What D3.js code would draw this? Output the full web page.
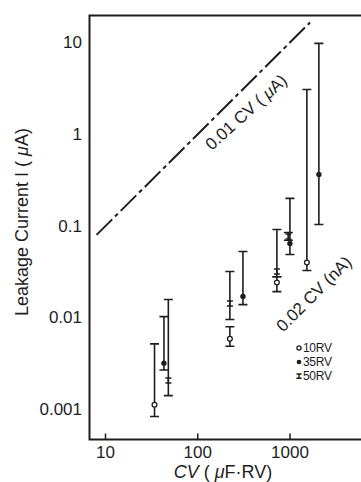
<!DOCTYPE html>
<html><head><meta charset="utf-8">
<script src="https://cdn.jsdelivr.net/npm/d3@7"></script>
<style>
html,body{margin:0;padding:0;background:#fff;}
svg{display:block;font-family:"Liberation Sans",Arial,Helvetica,sans-serif;}
</style></head><body>
<svg id="chart" width="361" height="482"></svg>
<script>
// ---- data ----
const xTicks = [10, 100, 1000];
const yTicks = [10, 1, 0.1, 0.01, 0.001];
const yTickLabels = ["10", "1", "0.1", "0.01", "0.001"];

const cv10RV  = [34, 223, 721, 1524];
const hi10RV  = [0.0052, 0.0080, 0.028, 3.07];
const mid10RV = [0.00113, 0.0059, 0.0242, 0.040];
const lo10RV  = [0.00084, 0.0049, 0.0193, 0.0327];

const cv35RV  = [43, 309, 998, 2056];
const hi35RV  = [0.0103, 0.0527, 0.20, 9.75];
const mid35RV = [0.0032, 0.0171, 0.0644, 0.364];
const lo35RV  = [0.0027, 0.0139, 0.0489, 0.104];

const cv50RV  = [48, 223, 721, 960];
const hi50RV  = [0.0158, 0.0319, 0.0916, 0.085];
const mid50RV = [0.00207, 0.0143, 0.0319, 0.077];
const lo50RV  = [0.00142, 0.0096, 0.028, 0.070];

const guideCV = [8, 1650];           // 0.01 CV (uA) line extent
const guideFactor = 0.01;

const legendLabels = ["10RV", "35RV", "50RV"];

// ---- layout ----
const svg = d3.select("#chart");
const plot = {left: 89.5, top: 15.5, bottom: 439.5, right: 420};
const x = d3.scaleLog().domain([10, 1000]).range([105.5, 290]);
const y = d3.scaleLog().domain([10, 0.001]).range([42.4, 409.6]);
const ink = "#1e1e1e";

// frame (left, top, bottom; right side lies outside the view)
svg.append("path")
  .attr("d", `M${plot.right},${plot.top}H${plot.left}V${plot.bottom}H${plot.right}`)
  .attr("fill", "none").attr("stroke", ink).attr("stroke-width", 2);

// x ticks (inward)
svg.selectAll(".xt").data(xTicks).join("line")
  .attr("x1", d => x(d)).attr("x2", d => x(d))
  .attr("y1", plot.bottom).attr("y2", plot.bottom - 6)
  .attr("stroke", ink).attr("stroke-width", 1.5);
svg.selectAll(".xl").data(xTicks).join("text")
  .attr("x", d => x(d)).attr("y", 452)
  .attr("text-anchor", "middle").attr("dominant-baseline", "central")
  .attr("font-size", 17).attr("fill", ink)
  .text(d => d);

// y tick labels
svg.selectAll(".yl").data(yTicks).join("text")
  .attr("x", 82).attr("y", d => y(d))
  .attr("text-anchor", "end").attr("dominant-baseline", "central")
  .attr("font-size", 17).attr("fill", ink)
  .text((d, i) => yTickLabels[i]);

// axis titles
const xt = svg.append("text")
  .attr("x", 223).attr("y", 472)
  .attr("text-anchor", "middle").attr("dominant-baseline", "central")
  .attr("font-size", 18).attr("fill", ink);
xt.append("tspan").attr("font-style", "italic").text("CV");
xt.append("tspan").text(" ( ");
xt.append("tspan").attr("font-style", "italic").text("\u03bc");
xt.append("tspan").text("F\u00b7RV)");

const yt = svg.append("text")
  .attr("transform", "translate(22,222) rotate(-90)")
  .attr("text-anchor", "middle").attr("dominant-baseline", "central")
  .attr("font-size", 18).attr("fill", ink);
yt.append("tspan").text("Leakage Current I ( ");
yt.append("tspan").attr("font-style", "italic").text("\u03bc");
yt.append("tspan").text("A)");

// guide line 0.01 CV
svg.append("line")
  .attr("x1", x(guideCV[0])).attr("y1", y(guideCV[0] * guideFactor))
  .attr("x2", x(guideCV[1])).attr("y2", y(guideCV[1] * guideFactor))
  .attr("stroke", ink).attr("stroke-width", 2)
  .attr("stroke-dasharray", "22,4,4,4");

const l1 = svg.append("text")
  .attr("transform", "translate(246,112) rotate(-42)")
  .attr("text-anchor", "middle").attr("dominant-baseline", "central")
  .attr("font-size", 17).attr("fill", ink);
l1.append("tspan").text("0.01 CV ( ");
l1.append("tspan").attr("font-style", "italic").text("\u03bc");
l1.append("tspan").text("A)");

svg.append("text")
  .attr("transform", "translate(314,294) rotate(-45)")
  .attr("text-anchor", "middle").attr("dominant-baseline", "central")
  .attr("font-size", 17).attr("fill", ink)
  .text("0.02 CV (nA)");

// error bars
const series = [
  {cv: cv10RV, hi: hi10RV, mid: mid10RV, lo: lo10RV, kind: "open"},
  {cv: cv35RV, hi: hi35RV, mid: mid35RV, lo: lo35RV, kind: "filled"},
  {cv: cv50RV, hi: hi50RV, mid: mid50RV, lo: lo50RV, kind: "beam"}
];
const capW = 4.5;
function drawMarker(g, kind, cx, cy, s) {
  if (kind === "open") {
    g.append("circle").attr("cx", cx).attr("cy", cy).attr("r", 2.4*s)
      .attr("fill", "#fff").attr("stroke", ink).attr("stroke-width", 1.3);
  } else if (kind === "filled") {
    g.append("circle").attr("cx", cx).attr("cy", cy).attr("r", 2.7*s)
      .attr("fill", ink);
  } else {
    g.append("path")
      .attr("d", `M${cx-3*s},${cy-2.5*s}H${cx+3*s}M${cx-3*s},${cy+2.5*s}H${cx+3*s}M${cx},${cy-2.5*s}V${cy+2.5*s}`)
      .attr("stroke", ink).attr("stroke-width", 1.5).attr("fill", "none");
  }
}
series.forEach(s => {
  const g = svg.append("g");
  s.cv.forEach((c, i) => {
    const cx = x(c), yh = y(s.hi[i]), yl = y(s.lo[i]);
    g.append("path")
      .attr("d", `M${cx},${yh}V${yl}M${cx-capW},${yh}H${cx+capW}M${cx-capW},${yl}H${cx+capW}`)
      .attr("stroke", ink).attr("stroke-width", 1.6).attr("fill", "none");
    drawMarker(g, s.kind, cx, y(s.mid[i]), 1);
  });
});

// legend
const legKinds = ["open", "filled", "beam"];
const lg = svg.append("g");
legendLabels.forEach((t, i) => {
  const ly = 348 + i * 14;
  drawMarker(lg, legKinds[i], 299, ly, 0.85);
  lg.append("text").attr("x", 303).attr("y", ly)
    .attr("dominant-baseline", "central").attr("font-size", 12)
    .attr("letter-spacing", -0.3).attr("fill", ink).text(t);
});
</script>
</body></html>
